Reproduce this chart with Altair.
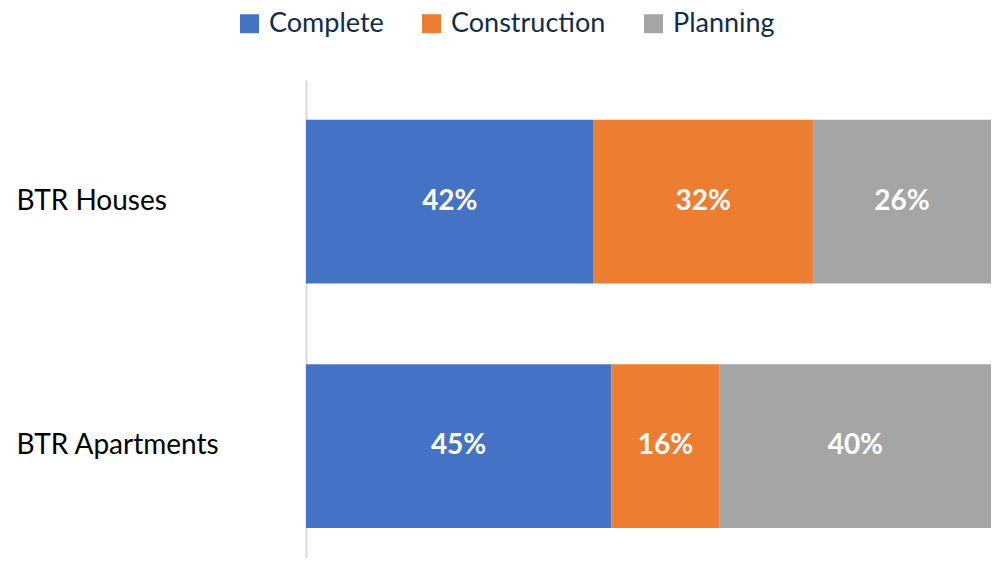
import altair as alt
import pandas as pd

categories = ["BTR Houses", "BTR Apartments"]
stages = ["Complete", "Construction", "Planning"]
houses = [42, 32, 26]
apartments = [45, 16, 40]
colors = ["#4472C4", "#ED7D31", "#A5A5A5"]

rows = []
for cat, vals in zip(categories, [houses, apartments]):
    for i, (s, v) in enumerate(zip(stages, vals)):
        rows.append({"cat": cat, "stage": s, "value": v, "order": i, "label": f"{v}%"})
df = pd.DataFrame(rows)

FONT = "Lato"

base = alt.Chart(df).transform_joinaggregate(
    total="sum(value)", groupby=["cat"]
).transform_window(
    cum="sum(value)", sort=[{"field": "order"}], groupby=["cat"], frame=[None, 0]
).transform_calculate(
    x1="(datum.cum - datum.value) / datum.total",
    x2="datum.cum / datum.total",
    mid="(datum.cum - datum.value / 2) / datum.total",
)

yenc = alt.Y(
    "cat:N",
    sort=categories,
    title=None,
    scale=alt.Scale(paddingInner=0.331, paddingOuter=0.143, align=0.57),
    axis=alt.Axis(
        domain=True, domainColor="#D9D9D9", domainWidth=2,
        ticks=False, labelAlign="left", labelPadding=290,
        labelFont=FONT, labelFontSize=28, labelColor="#000000",
        labelBaseline="middle", labelLimit=400,
    ),
)

bars = base.mark_bar().encode(
    x=alt.X("x1:Q", scale=alt.Scale(domain=[0, 1], nice=False), axis=None),
    x2="x2:Q",
    y=yenc,
    color=alt.Color(
        "stage:N",
        scale=alt.Scale(domain=stages, range=colors),
        legend=alt.Legend(
            title=None, orient="none", direction="horizontal",
            legendX=-70, legendY=-70,
            symbolType="square", symbolSize=361, symbolStrokeWidth=0,
            labelFont=FONT, labelFontSize=27, labelColor="#112B4A",
            labelOffset=6, columnPadding=34, labelLimit=400,
            labelBaseline="middle",
        ),
    ),
)

text = base.mark_text(
    font=FONT, fontSize=28, fontWeight="bold", color="white", baseline="middle"
).encode(
    x=alt.X("mid:Q", scale=alt.Scale(domain=[0, 1], nice=False), axis=None),
    y=alt.Y("cat:N", sort=categories),
    text="label:N",
)

chart = (bars + text).properties(
    width=685, height=478,
    autosize=alt.AutoSizeParams(type="pad"),
    padding={"left": 8, "top": 2, "right": 0, "bottom": 0},
).configure_view(stroke=None)

chart.save("out.html", embed_options={"renderer": "svg", "actions": False})
